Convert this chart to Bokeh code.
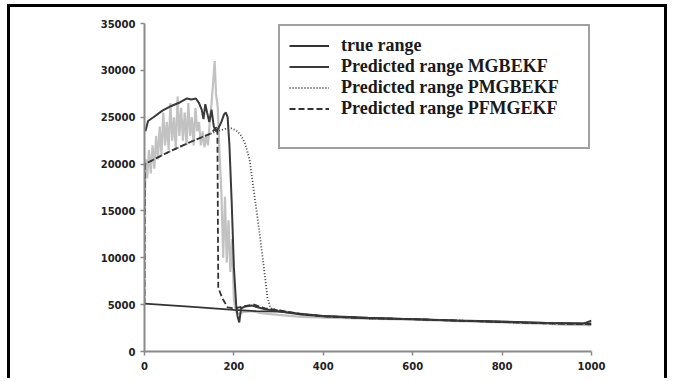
from bokeh.plotting import figure
from bokeh.models import Legend, LegendItem, Range1d, FixedTicker
from bokeh.embed import file_html
from bokeh.resources import INLINE

# ---- data ----
x_ticks = [0, 200, 400, 600, 800, 1000]
y_ticks = [0, 5000, 10000, 15000, 20000, 25000, 30000, 35000]

x_true = [0, 100, 200, 250, 300, 400, 500, 600, 700, 800, 900, 1000]
y_true = [5100, 4780, 4450, 4300, 4250, 3800, 3600, 3450, 3300, 3150, 3050, 3000]

x_mg = [2, 8, 20, 40, 60, 80, 95, 105, 115, 122, 128, 132, 136, 140, 145, 150, 155,
        160, 165, 172, 178, 182, 186, 190, 195, 200, 205, 208, 212, 216, 225, 240,
        255, 270, 300, 350, 400, 500, 600, 700, 800, 900, 980, 1000]
y_mg = [23500, 24600, 25000, 25700, 26200, 26600, 27000, 26900, 27000, 26500, 25800,
        24800, 26400, 25500, 24500, 25800, 24000, 23500, 23800, 24500, 25300, 25500,
        25000, 22000, 16000, 9000, 5000, 3800, 3100, 4600, 4800, 4900, 4700, 4500,
        4300, 3950, 3750, 3550, 3450, 3300, 3200, 3050, 2950, 3300]

x_pm = [0, 1, 50, 100, 150, 180, 195, 205, 215, 225, 235, 245, 255, 265, 275, 282,
        300, 350, 400, 500, 600, 700, 800, 900, 1000]
y_pm = [5000, 20000, 21200, 22300, 23300, 23750, 23800, 23600, 23100, 22200, 20500,
        17000, 13500, 9800, 5800, 4600, 4400, 4000, 3750, 3550, 3450, 3300, 3150,
        3000, 2900]

x_pf = [0, 1, 50, 100, 150, 158, 163, 165, 174, 186, 200, 220, 245, 270, 300, 350,
        400, 500, 600, 700, 800, 900, 1000]
y_pf = [5000, 20000, 21200, 22300, 23300, 23800, 24000, 6800, 5700, 4700, 4600,
        4800, 5000, 4600, 4400, 4000, 3750, 3550, 3450, 3300, 3150, 3000, 2900]

x_gr = [0, 3, 6, 10, 14, 18, 22, 26, 30, 34, 38, 42, 46, 50, 54, 58, 62, 66, 70, 74,
        78, 82, 86, 90, 94, 98, 102, 106, 110, 114, 118, 122, 126, 130, 134, 138,
        142, 146, 150, 154, 157, 160, 164, 168, 172, 176, 180, 184, 188, 192, 196,
        200, 205, 210, 220, 240, 260, 300, 350, 400, 500, 600, 700, 800, 900, 950,
        1000]
y_gr = [15000, 20500, 18500, 21500, 19000, 22000, 19500, 23000, 20500, 24000, 21000,
        25500, 22000, 24500, 21500, 26500, 22500, 25000, 21500, 27200, 23000, 26000,
        22500, 25500, 22000, 26500, 23000, 25000, 22000, 26000, 23500, 24500, 22000,
        23500, 21800, 23000, 22000, 24500, 26500, 29000, 31000, 27500, 26000, 21000,
        17000, 10000, 16500, 9500, 14000, 8500, 12000, 5500, 4200, 4000, 4200, 4300,
        4100, 3900, 3700, 3600, 3500, 3400, 3250, 3100, 2950, 2850, 2800]

labels = ["true range", "Predicted range MGBEKF", "Predicted range PMGBEKF",
          "Predicted range PFMGEKF"]

# ---- figure ----
p = figure(width=660, height=374, output_backend="svg", toolbar_location=None,
           x_range=Range1d(0, 1000), y_range=Range1d(0, 35000),
           min_border_left=134, min_border_right=79, min_border_top=16,
           min_border_bottom=30)
p.styles = {"border-top": "3px solid #000", "border-left": "3px solid #000",
            "border-right": "3px solid #000", "margin-left": "7px",
            "margin-top": "4px"}
p.outline_line_color = None
p.grid.visible = False
p.background_fill_color = "white"
p.border_fill_color = "white"

for ax in (p.xaxis[0], p.yaxis[0]):
    ax.axis_line_color = "#8a8a8a"
    ax.axis_line_width = 2
    ax.major_tick_line_color = "#8a8a8a"
    ax.major_tick_line_width = 1.5
    ax.major_tick_out = 4
    ax.major_tick_in = 0
    ax.minor_tick_line_color = None
    ax.major_label_text_font = "DejaVu Sans"
    ax.major_label_text_font_style = "bold"
    ax.major_label_text_font_size = "10px"
    ax.major_label_text_color = "#222222"
p.xaxis[0].ticker = FixedTicker(ticks=x_ticks)
p.yaxis[0].ticker = FixedTicker(ticks=y_ticks)
p.xaxis[0].major_label_standoff = 6
p.yaxis[0].major_label_standoff = 5

r_gr = p.line(x_gr, y_gr, line_color="#c2c2c2", line_width=2.2)
r_true = p.line(x_true, y_true, line_color="#333333", line_width=1.8)
r_mg = p.line(x_mg, y_mg, line_color="#3a3a3a", line_width=2)
r_pm = p.line(x_pm, y_pm, line_color="#444444", line_width=1.8, line_dash="1 2")
r_pf = p.line(x_pf, y_pf, line_color="#333333", line_width=1.8, line_dash="6 3")
r_blank = p.line(x_true, y_true, line_alpha=0)

legend = Legend(items=[LegendItem(label=labels[0], renderers=[r_true]),
                       LegendItem(label=labels[1], renderers=[r_mg]),
                       LegendItem(label=labels[2], renderers=[r_pm]),
                       LegendItem(label=labels[3], renderers=[r_pf]),
                       LegendItem(label=" ", renderers=[r_blank])],
                location="top_right", margin=1, padding=9, spacing=0,
                glyph_width=40, glyph_height=19, label_height=19,
                label_standoff=12, label_width=238,
                label_text_font="Liberation Serif", label_text_font_style="bold",
                label_text_font_size="18px", label_text_color="#1a1a1a",
                border_line_color="#444444", border_line_width=2,
                background_fill_color="white", background_fill_alpha=1)
p.add_layout(legend)

open("out.html", "w").write(file_html(p, INLINE))
